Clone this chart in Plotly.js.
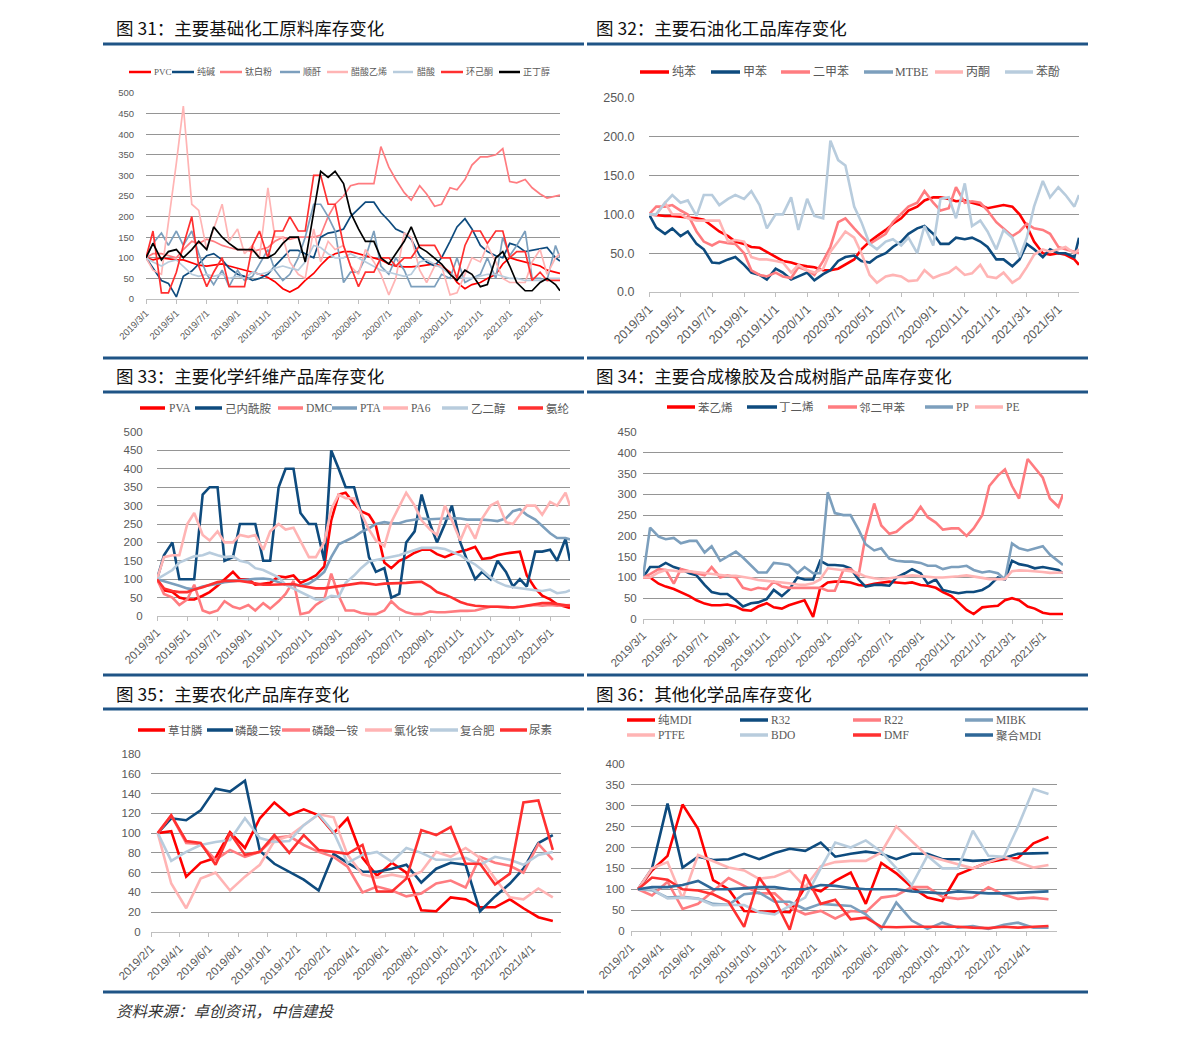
<!DOCTYPE html>
<html><head><meta charset="utf-8">
<script src="https://cdn.plot.ly/plotly-3.0.1.min.js"></script>
<style>html,body{margin:0;padding:0;background:#fff}#c{width:1191px;height:1038px}</style>
</head><body><div id="c"></div>
<script>
// ---------- DATA ----------
const WEEKS = ['2019-03-01','2019-03-15','2019-04-01','2019-04-15','2019-05-01','2019-05-15','2019-06-01','2019-06-15','2019-07-01','2019-07-15','2019-08-01','2019-08-15','2019-09-01','2019-09-15','2019-10-01','2019-10-15','2019-11-01','2019-11-15','2019-12-01','2019-12-15','2020-01-01','2020-01-15','2020-02-01','2020-02-15','2020-03-01','2020-03-15','2020-04-01','2020-04-15','2020-05-01','2020-05-15','2020-06-01','2020-06-15','2020-07-01','2020-07-15','2020-08-01','2020-08-15','2020-09-01','2020-09-15','2020-10-01','2020-10-15','2020-11-01','2020-11-15','2020-12-01','2020-12-15','2021-01-01','2021-01-15','2021-02-01','2021-02-15','2021-03-01','2021-03-15','2021-04-01','2021-04-15','2021-05-01','2021-05-15','2021-06-01','2021-06-10'];
const MONTHS = ['2019-02-15','2019-03-15','2019-04-15','2019-05-15','2019-06-15','2019-07-15','2019-08-15','2019-09-15','2019-10-15','2019-11-15','2019-12-15','2020-01-15','2020-02-15','2020-03-15','2020-04-15','2020-05-15','2020-06-15','2020-07-15','2020-08-15','2020-09-15','2020-10-15','2020-11-15','2020-12-15','2021-01-15','2021-02-15','2021-03-15','2021-04-15','2021-05-15'];
const TICKS_W = ['2019-03-01','2019-05-01','2019-07-01','2019-09-01','2019-11-01','2020-01-01','2020-03-01','2020-05-01','2020-07-01','2020-09-01','2020-11-01','2021-01-01','2021-03-01','2021-05-01'];
const TICKTEXT_W = ['2019/3/1','2019/5/1','2019/7/1','2019/9/1','2019/11/1','2020/1/1','2020/3/1','2020/5/1','2020/7/1','2020/9/1','2020/11/1','2021/1/1','2021/3/1','2021/5/1'];
const TICKS_M = ['2019-02-01','2019-04-01','2019-06-01','2019-08-01','2019-10-01','2019-12-01','2020-02-01','2020-04-01','2020-06-01','2020-08-01','2020-10-01','2020-12-01','2021-02-01','2021-04-01'];
const TICKTEXT_M = ['2019/2/1','2019/4/1','2019/6/1','2019/8/1','2019/10/1','2019/12/1','2020/2/1','2020/4/1','2020/6/1','2020/8/1','2020/10/1','2020/12/1','2021/2/1','2021/4/1'];

// 图31
const P31_NAMES = ['PVC','纯碱','钛白粉','顺酐','醋酸乙烯','醋酸','环己酮','正丁醇'];
const P31_PVC  = [100,95,100,97,95,95,88,82,80,82, 85,80,75,70,65,60,52,42,25,17, 28,45,62,82,100,110,115,115,110,105, 100,95,85,80,78,78,80,82,85,80, 65,40,25,35,40,50,60,85,100,95, 90,85,80,70,65,62];
const P31_SODA = [100,75,45,38,5,55,68,85,105,110, 95,75,60,55,45,50,60,80,100,118, 118,110,100,150,160,163,170,200,220,235, 235,210,190,170,160,145,105,90,80,100, 140,175,195,170,130,115,105,100,135,130, 115,118,123,125,100,92];
const P31_TIO2 = [100,110,110,105,100,120,140,135,145,140, 130,125,120,120,115,120,125,140,150,145, 150,150,150,155,200,230,250,275,280,280, 280,370,320,290,258,240,275,255,225,230, 270,265,290,325,345,345,350,365,285,282, 290,270,255,245,250,252];
const P31_MA   = [100,135,160,130,165,130,165,110,60,35, 70,30,70,45,55,85,120,70,45,60, 100,150,230,230,200,165,40,65,65,100, 165,80,60,100,70,30,30,30,30,60, 50,100,40,50,60,100,50,150,105,130, 165,50,50,45,130,100];
const P31_VAM  = [100,70,60,180,330,468,230,215,120,170, 230,140,170,110,130,100,270,150,150,90, 60,50,170,90,140,120,130,80,60,120, 90,60,10,50,160,150,70,40,80,80, 10,15,60,100,90,130,90,50,40,40, 40,90,120,60,100,110];
const P31_HAC  = [100,90,80,90,95,80,60,55,60,55, 60,50,55,50,65,60,65,75,80,75, 70,90,130,125,110,100,100,110,100,90, 80,70,65,60,55,60,90,95,85,75, 60,55,50,50,55,60,60,55,50,50, 45,45,45,50,50,50];
const P31_CHN  = [100,165,15,15,65,130,200,80,30,65, 100,30,30,30,130,165,100,165,165,200, 165,165,300,300,230,230,130,80,30,65, 65,100,100,80,100,100,130,130,130,100, 100,50,130,165,165,135,165,165,100,115, 115,45,65,45,45,45];
const P31_NBA  = [100,135,95,115,120,100,120,140,120,175, 150,135,120,120,120,100,100,110,135,150, 150,90,210,310,295,310,280,210,170,140, 140,100,85,110,140,175,125,115,100,85, 60,45,70,60,30,35,100,115,80,40, 20,20,40,50,35,20];

// 图32
const P32_NAMES = ['纯苯','甲苯','二甲苯','MTBE','丙酮','苯酚'];
const P32_BENZ = [100,99,98,98,97,96,95,93,85,78, 72,65,62,58,57,52,45,40,38,35, 33,32,28,28,30,35,42,55,65,72, 80,88,95,105,110,118,122,122,120,117, 118,115,112,108,110,112,110,100,85,65, 50,48,50,48,42,35];
const P32_TOL  = [100,83,75,82,72,78,62,55,38,37, 42,45,35,25,22,16,30,25,16,20, 25,15,23,28,40,45,47,40,38,45, 50,58,65,75,82,85,75,62,62,70, 68,70,65,58,42,42,33,42,62,55, 45,55,50,50,45,70];
const P32_XYL  = [100,110,110,112,105,100,78,65,60,65, 63,62,50,28,22,20,25,20,18,32, 28,22,40,58,90,95,82,72,62,68, 75,90,100,110,115,130,115,105,108,135, 115,117,115,105,90,82,72,78,88,82, 80,75,58,55,52,50];
const P32_ACET = [100,100,115,100,100,95,92,92,92,92, 65,67,65,45,42,42,40,38,25,35, 28,25,30,52,65,78,70,50,22,12, 20,22,20,14,15,28,18,22,25,32, 22,24,35,20,18,25,12,18,32,48, 55,52,55,58,50,55];
const P32_PHEN = [100,100,115,125,115,118,98,125,125,112, 120,125,120,130,112,82,100,100,122,80, 120,98,95,195,170,163,110,90,62,55, 65,68,60,70,50,85,60,120,122,95, 140,85,92,78,55,80,70,45,70,110, 143,122,135,125,110,125];

// 图33
const P33_NAMES = ['PVA','己内酰胺','DMC','PTA','PA6','乙二醇','氨纶'];
const P33_PVA  = [100,70,65,50,45,45,55,65,82,100, 120,100,100,85,88,90,108,105,110,90, 100,110,135,260,330,335,305,285,275,245, 145,130,150,158,172,180,180,168,160,168, 175,180,188,155,158,165,170,172,175,110, 75,55,45,32,25,22];
const P33_CPL  = [100,165,200,100,100,100,330,350,350,150, 160,250,250,250,150,150,350,400,400,280, 250,250,150,450,400,350,350,280,160,120, 130,50,60,200,230,330,250,200,250,300, 200,150,100,120,100,150,120,80,100,80, 175,175,180,150,210,150];
const P33_DMC  = [100,60,50,30,45,85,15,8,15,40, 25,20,30,15,35,20,40,60,95,5, 10,30,45,115,55,15,15,8,5,5, 15,40,20,10,5,5,12,10,10,12, 14,14,15,20,25,25,23,23,25,28, 30,28,30,28,30,30];
const P33_PTA  = [100,95,88,82,75,72,80,83,88,92, 95,97,100,101,102,100,92,85,85,82, 88,100,120,160,195,205,215,228,238,250, 255,252,252,258,262,265,263,263,265,266, 265,262,263,262,260,258,265,285,290,275, 262,245,225,212,212,208];
const P33_PA6  = [100,160,165,165,250,280,220,205,230,200, 200,220,215,220,180,230,250,235,240,205, 160,160,200,290,330,320,320,280,235,205, 190,255,300,335,300,260,235,220,300,260, 205,250,210,265,300,310,255,250,275,300, 300,275,310,300,335,300];
const P33_MEG  = [100,112,125,145,155,162,165,172,165,160, 162,150,145,130,125,115,105,85,75,65, 55,45,45,55,52,90,110,130,148,152, 155,160,165,172,178,185,185,185,182,175, 165,152,140,125,105,92,82,78,75,72, 70,68,72,62,65,70];
const P33_SPX  = [100,75,68,65,65,72,78,85,92,95, 95,95,92,88,85,85,86,88,87,82, 78,75,75,78,82,85,88,90,88,85, 88,88,90,90,92,93,80,65,58,50, 38,32,28,26,25,25,24,23,25,28, 32,35,35,32,30,28];

// 图34
const P34_NAMES = ['苯乙烯','丁二烯','邻二甲苯','PP','PE'];
const P34_SM   = [100,100,85,78,72,65,55,45,37,33, 33,35,30,22,20,30,38,28,25,33, 40,45,5,75,88,90,90,88,82,80, 85,88,90,88,86,88,82,80,75,65, 55,40,22,12,28,30,32,45,50,45, 30,25,15,12,12,12];
const P34_BD   = [100,125,125,135,125,120,110,105,82,65, 60,60,45,30,38,40,48,70,55,70, 100,95,95,140,130,130,128,122,95,78, 82,82,80,100,110,120,110,85,95,70, 65,62,65,65,70,80,100,95,140,132, 128,122,125,122,118,110];
const P34_OX   = [100,108,120,118,85,120,115,110,105,125, 100,105,100,75,70,75,72,90,78,75, 75,75,75,75,68,68,118,120,105,200, 278,225,205,210,228,240,270,245,232,215, 218,218,200,218,250,320,345,360,320,290, 385,365,340,290,270,300];
const P34_PP   = [100,220,198,192,195,182,188,188,160,175, 140,150,162,148,130,112,112,135,133,130, 110,125,110,110,305,255,250,250,215,180, 165,170,145,140,138,138,135,128,128,120, 125,125,128,118,112,115,110,95,182,170, 165,170,175,155,140,130];
const P34_PE   = [100,100,112,118,116,114,115,113,110,107, 105,104,104,102,98,94,92,90,88,86, 83,82,86,95,122,120,117,115,110,102, 98,96,98,101,103,105,103,101,100,100, 101,103,105,103,99,96,95,96,115,117, 116,115,113,111,112,112];

// 图35
const P35_NAMES = ['草甘膦','磷酸二铵','磷酸一铵','氯化铵','复合肥','尿素'];
const P35_GLY  = [100,102,56,70,75,101,85,115,131,118,124,118,100,115,75,57,70,60,22,21,35,33,25,25,33,24,15,11];
const P35_DAP  = [100,115,113,123,145,142,153,82,69,61,53,42,79,70,61,61,64,68,50,64,70,68,21,36,49,64,90,98];
const P35_MAP  = [100,118,90,89,73,83,76,81,95,97,88,81,76,66,40,46,42,36,39,49,52,45,76,70,67,60,89,73];
const P35_NH4CL= [100,49,24,54,60,42,56,68,92,97,108,119,116,78,58,55,58,55,61,81,76,85,75,54,35,33,44,35];
const P35_NPK  = [100,72,81,88,91,93,115,95,91,92,108,119,101,70,78,81,71,85,80,73,73,75,68,76,73,68,78,81];
const P35_UREA = [100,118,92,90,68,100,78,81,98,80,98,83,81,79,88,41,41,54,103,98,106,69,69,48,59,131,133,83];

// 图36
const P36_NAMES = ['纯MDI','R32','R22','MIBK','PTFE','BDO','DMF','聚合MDI'];
const P36_MDI  = [100,145,180,303,245,122,100,48,46,47,45,105,95,120,140,65,163,138,105,80,72,135,150,165,172,175,210,225];
const P36_R32  = [100,150,305,152,178,170,172,185,172,187,197,192,212,178,185,190,185,172,185,185,172,172,168,170,175,185,186,187];
const P36_R22  = [100,85,118,53,65,95,127,108,90,90,57,40,48,30,48,45,80,85,105,105,82,77,80,105,87,77,80,76];
const P36_MIBK = [100,98,80,82,78,65,63,88,92,70,70,52,65,63,60,40,5,68,25,5,20,8,12,5,15,20,8,8];
const P36_PTFE = [100,150,165,78,182,168,152,145,125,130,145,105,155,165,168,168,188,250,215,180,170,160,150,165,178,165,152,158];
const P36_BDO  = [100,100,78,80,77,62,63,62,45,40,60,80,150,212,200,217,190,150,110,180,150,150,240,180,178,250,340,328];
const P36_DMF  = [100,128,123,100,97,88,70,10,128,75,3,135,65,75,28,32,10,9,10,10,10,10,8,7,10,8,10,12];
const P36_PMDI = [100,105,105,110,120,100,100,103,105,105,100,100,110,108,103,100,100,100,95,92,90,95,93,90,90,92,93,95];

const TITLES = ['图 31：主要基础化工原料库存变化','图 32：主要石油化工品库存变化','图 33：主要化学纤维产品库存变化','图 34：主要合成橡胶及合成树脂产品库存变化','图 35：主要农化产品库存变化','图 36：其他化学品库存变化'];
const SOURCE = '资料来源：卓创资讯，中信建投';

// ---------- STYLE / LAYOUT ----------
const RED='#FF0000', DBLUE='#0E4B7E', SALMON='#FF7C80', STEEL='#7C9FBD', PINK='#FFB4B4', LBLUE='#B8CCDD', RED2='#FF3030', BLACK='#000000', MBLUE='#2E6797';
const W=1191, H=1038;
const fx = p => p/W, fy = p => 1 - p/H;
const TICKFONT = 'Liberation Sans, Arial, sans-serif';
const LEGFONT = 'Liberation Serif, Noto Sans CJK SC, serif';

const panels = [
  {x0:146,x1:560,yT:93,yB:299,ymax:500,dtick:50,fmt:'d',tf:9.5,gap:9,dates:WEEKS,range:['2019-03-01','2021-06-10'],tv:TICKS_W,tt:TICKTEXT_W,lw:1.7,
   data:[P31_PVC,P31_SODA,P31_TIO2,P31_MA,P31_VAM,P31_HAC,P31_CHN,P31_NBA], colors:[RED,DBLUE,SALMON,STEEL,PINK,LBLUE,RED2,BLACK], names:P31_NAMES,
   leg:{y:[72],font:9,lw:2.5,items:[[129,151,153],[172,194,196],[220,242,244],[280,300,302],[327,348,350],[393,413,416],[441,463,465],[499,520,522]]}},
  {x0:649,x1:1079,yT:98,yB:292,ymax:250,dtick:50,fmt:'.1f',tf:12.5,gap:11,dates:WEEKS,range:['2019-03-01','2021-06-10'],tv:TICKS_W,tt:TICKTEXT_W,lw:2.6,
   data:[P32_BENZ,P32_TOL,P32_XYL,null,P32_ACET,P32_PHEN], colors:[RED,DBLUE,SALMON,STEEL,PINK,LBLUE], names:P32_NAMES,
   leg:{y:[72],font:12,lw:3.5,items:[[640,669,671],[711,740,742],[781,810,812],[864,893,894],[935,963,965],[1005,1033,1035]]}},
  {x0:157,x1:570,yT:432,yB:616,ymax:500,dtick:50,fmt:'d',tf:11.5,gap:11,dates:WEEKS,range:['2019-03-01','2021-06-10'],tv:TICKS_W,tt:TICKTEXT_W,lw:2.6,
   data:[P33_PVA,P33_CPL,P33_DMC,P33_PTA,P33_PA6,P33_MEG,P33_SPX], colors:[RED,DBLUE,SALMON,STEEL,PINK,LBLUE,RED2], names:P33_NAMES,
   leg:{y:[408],font:11.5,lw:3.5,items:[[140,165,168],[195,222,224],[278,303,305],[332,357,359],[383,408,410],[442,468,470],[518,543,545]]}},
  {x0:643,x1:1063,yT:432,yB:619,ymax:450,dtick:50,fmt:'d',tf:11.5,gap:3,dates:WEEKS,range:['2019-03-01','2021-06-10'],tv:TICKS_W,tt:TICKTEXT_W,lw:2.6,
   data:[P34_SM,P34_BD,P34_OX,P34_PP,P34_PE], colors:[RED,DBLUE,SALMON,STEEL,PINK], names:P34_NAMES,
   leg:{y:[407],font:11.5,lw:3.5,items:[[667,695,697],[747,777,778],[828,857,858],[925,953,955],[975,1003,1005]]}},
  {x0:151,x1:561,yT:754,yB:932,ymax:180,dtick:20,fmt:'d',tf:11.5,gap:7,dates:MONTHS,range:['2019-02-01','2021-06-01'],tv:TICKS_M,tt:TICKTEXT_M,lw:2.6,
   data:[P35_GLY,P35_DAP,P35_MAP,P35_NH4CL,P35_NPK,P35_UREA], colors:[RED,DBLUE,SALMON,PINK,LBLUE,RED2], names:P35_NAMES,
   leg:{y:[730],font:11.5,lw:3.5,items:[[138,165,167],[207,233,234],[282,310,311],[365,392,393],[430,458,459],[500,527,528]]}},
  {x0:631,x1:1057,yT:764,yB:931,ymax:400,dtick:50,fmt:'d',tf:11.5,gap:3,dates:MONTHS,range:['2019-02-01','2021-06-01'],tv:TICKS_M,tt:TICKTEXT_M,lw:2.6,
   data:[P36_MDI,P36_R32,P36_R22,P36_MIBK,P36_PTFE,P36_BDO,P36_DMF,P36_PMDI], colors:[RED,DBLUE,SALMON,STEEL,PINK,LBLUE,RED2,MBLUE], names:P36_NAMES,
   leg:{y:[720,720,720,720,735,735,735,735],font:11.5,lw:3.5,items:[[627,655,657],[740,768,770],[853,881,883],[965,993,995],[627,655,657],[740,768,770],[853,881,883],[965,993,995]]}}
];

const traces = [], shapes = [], annotations = [];
const layout = {width:W,height:H,margin:{l:0,r:0,t:0,b:0},paper_bgcolor:'#fff',plot_bgcolor:'#fff',showlegend:false,shapes,annotations};

panels.forEach((p,i) => {
  const n = i===0 ? '' : String(i+1);
  layout['xaxis'+n] = {domain:[fx(p.x0),fx(p.x1)], anchor:'y'+n, type:'date', range:p.range, tickvals:p.tv, ticktext:p.tt, tickangle:-45,
    tickfont:{family:TICKFONT,size:p.tf,color:'#595959'}, showgrid:false, zeroline:false, showline:true, linecolor:'#BFBFBF', linewidth:1,
    ticks:'outside', ticklen:4, tickcolor:'#BFBFBF', fixedrange:true};
  layout['yaxis'+n] = {domain:[fy(p.yB),fy(p.yT)], anchor:'x'+n, range:[0,p.ymax], dtick:p.dtick, tick0:0, tickformat:p.fmt,
    tickfont:{family:TICKFONT,size:p.tf,color:'#595959'}, showgrid:true, gridcolor:'#959595', gridwidth:1, zeroline:false, showline:false,
    ticks:'outside', ticklen:p.gap, tickcolor:'rgba(0,0,0,0)', fixedrange:true};
  p.data.forEach((ys,k) => {
    if (!ys) return;
    traces.push({type:'scatter', mode:'lines', x:p.dates, y:ys, name:p.names[k], xaxis:'x'+n, yaxis:'y'+n,
      line:{color:p.colors[k], width:p.lw}, hoverinfo:'skip'});
  });
  // legend (drawn as real text + sample lines)
  p.leg.items.forEach((it,k) => {
    const yy = p.leg.y.length>1 ? p.leg.y[k] : p.leg.y[0];
    shapes.push({type:'line', xref:'paper', yref:'paper', x0:fx(it[0]), x1:fx(it[1]), y0:fy(yy), y1:fy(yy), line:{color:p.colors[k], width:p.leg.lw}});
    annotations.push({xref:'paper', yref:'paper', x:fx(it[2]), y:fy(yy), xanchor:'left', yanchor:'middle', showarrow:false, text:p.names[k],
      font:{family:LEGFONT, size:p.leg.font, color:'#595959'}, borderpad:0});
  });
});

// titles
const titlePos = [[115,27],[595,27],[115,375],[595,375],[115,693],[595,693]];
TITLES.forEach((t,i) => annotations.push({xref:'paper', yref:'paper', x:fx(titlePos[i][0]), y:fy(titlePos[i][1]), xanchor:'left', yanchor:'middle',
  showarrow:false, text:t, font:{family:'Noto Sans CJK SC, sans-serif', size:17.5, color:'#111111'}, borderpad:0}));
annotations.push({xref:'paper', yref:'paper', x:fx(115), y:fy(1010), xanchor:'left', yanchor:'middle', showarrow:false,
  text:'<i>'+SOURCE+'</i>', font:{family:'Noto Sans CJK SC, sans-serif', size:15.5, color:'#333333'}, borderpad:0});

// separator rules
[44,358,392,675,709,992].forEach(y => {
  [[103,584],[587,1088]].forEach(s => shapes.push({type:'line', xref:'paper', yref:'paper', x0:fx(s[0]), x1:fx(s[1]), y0:fy(y), y1:fy(y),
    line:{color:'#1F5486', width:3}}));
});

Plotly.newPlot('c', traces, layout, {displayModeBar:false, staticPlot:true});
</script></body></html>
